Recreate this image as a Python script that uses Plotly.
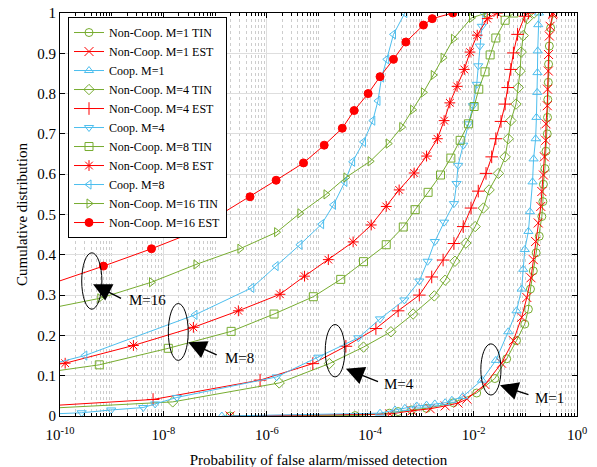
import numpy as np
import plotly.graph_objects as go

# ---- data (x given as log10 of probability, y = cumulative distribution) ----
m1_tin_logx = [-6.71, -4.29, -3.63, -3.46, -3.20, -2.91, -2.39, -1.94, -1.59, -1.36, -1.17, -1.01, -0.94, -0.90,
               -0.845, -0.79, -0.73, -0.68, -0.66, -0.65, -0.62, -0.60, -0.575, -0.57, -0.565, -0.555, -0.55,
               -0.535, -0.51, -0.46]
m1_tin_cdf = [0.0, 0.001, 0.007, 0.011, 0.015, 0.019, 0.033, 0.057, 0.093, 0.142, 0.187, 0.228, 0.265, 0.315,
              0.360, 0.405, 0.446, 0.495, 0.532, 0.575, 0.614, 0.657, 0.700, 0.741, 0.785, 0.828, 0.873,
              0.918, 0.963, 1.0]

m1_est_logx = [-6.71, -3.62, -3.19, -2.84, -2.55, -2.30, -2.13, -1.78, -1.46, -1.23, -1.07, -0.97, -0.89, -0.845,
               -0.80, -0.75, -0.70, -0.68, -0.65, -0.63, -0.605, -0.60, -0.575, -0.57, -0.555, -0.55, -0.535,
               -0.52, -0.47, -0.465]
m1_est_cdf = [0.0, 0.005, 0.013, 0.018, 0.025, 0.032, 0.042, 0.078, 0.131, 0.187, 0.245, 0.294, 0.343, 0.388,
              0.433, 0.479, 0.520, 0.557, 0.598, 0.643, 0.684, 0.725, 0.770, 0.811, 0.856, 0.897, 0.943,
              0.967, 0.996, 1.0]

coop1_logx = [-6.87, -3.81, -3.52, -3.33, -3.10, -2.91, -2.75, -2.55, -2.42, -2.21, -1.84, -1.57, -1.33, -1.17,
              -1.07, -1.04, -1.01, -0.94, -0.91, -0.86, -0.84, -0.80, -0.785, -0.77, -0.765, -0.76, -0.75, -0.735]
coop1_cdf = [0.0, 0.007, 0.015, 0.019, 0.025, 0.027, 0.030, 0.033, 0.039, 0.048, 0.089, 0.138, 0.209, 0.261,
             0.315, 0.364, 0.413, 0.458, 0.507, 0.581, 0.638, 0.688, 0.741, 0.803, 0.852, 0.906, 0.971, 1.0]

m4_tin_logx = [-10.4, -7.82, -5.76, -4.79, -4.13, -3.60, -3.17, -2.76, -2.55, -2.36, -2.15, -1.97, -1.81, -1.70,
               -1.52, -1.39, -1.33, -1.28, -1.18, -1.135, -1.10, -1.08, -1.04, -0.96, -0.83]
m4_tin_cdf = [0.018, 0.035, 0.082, 0.130, 0.171, 0.209, 0.253, 0.298, 0.337, 0.384, 0.429, 0.470, 0.516, 0.561,
              0.602, 0.643, 0.688, 0.733, 0.774, 0.815, 0.856, 0.903, 0.944, 0.986, 1.0]

m4_est_logx = [-10.4, -8.20, -6.13, -5.11, -4.47, -3.89, -3.46, -3.05, -2.81, -2.59, -2.38, -2.20, -2.05, -1.91,
               -1.76, -1.65, -1.57, -1.47, -1.39, -1.34, -1.28, -1.23, -1.15, -1.01, -0.94]
m4_est_cdf = [0.024, 0.041, 0.089, 0.130, 0.173, 0.217, 0.261, 0.300, 0.345, 0.387, 0.428, 0.470, 0.516, 0.558,
              0.602, 0.643, 0.688, 0.731, 0.774, 0.815, 0.860, 0.901, 0.947, 0.992, 1.0]

coop4_logx = [-10.4, -9.58, -9.01, -8.39, -8.16, -7.74, -5.81, -5.00, -4.23, -3.81, -3.34, -3.05, -2.89, -2.75,
              -2.57, -2.38, -2.33, -2.30, -2.20, -2.10, -2.01, -1.94, -1.91, -1.88, -1.84, -1.81]
coop4_cdf = [0.004, 0.008, 0.015, 0.021, 0.030, 0.046, 0.097, 0.146, 0.194, 0.241, 0.288, 0.335, 0.384, 0.433,
             0.481, 0.527, 0.577, 0.622, 0.672, 0.725, 0.770, 0.823, 0.869, 0.918, 0.967, 1.0]

m8_tin_logx = [-10.4, -9.24, -7.905, -6.69, -5.86, -5.10, -4.57, -4.13, -3.69, -3.36, -3.13, -2.88, -2.64, -2.44,
               -2.26, -2.10, -1.99, -1.90, -1.78, -1.68, -1.57, -1.39, -1.22]
m8_tin_cdf = [0.106, 0.127, 0.168, 0.210, 0.253, 0.296, 0.339, 0.383, 0.425, 0.469, 0.512, 0.555, 0.598, 0.640,
              0.684, 0.725, 0.768, 0.811, 0.854, 0.896, 0.938, 0.982, 1.0]

m8_est_logx = [-10.4, -9.90, -8.58, -7.42, -6.55, -5.745, -5.27, -4.81, -4.33, -3.98, -3.69, -3.44, -3.15, -2.91,
               -2.70, -2.57, -2.46, -2.32, -2.18, -2.07, -1.93, -1.735, -1.54]
m8_est_cdf = [0.122, 0.131, 0.175, 0.220, 0.261, 0.302, 0.347, 0.388, 0.432, 0.474, 0.520, 0.561, 0.603, 0.645,
              0.688, 0.733, 0.777, 0.818, 0.860, 0.903, 0.945, 0.986, 1.0]

coop8_logx = [-10.4, -9.52, -7.39, -6.29, -5.82, -5.36, -4.94, -4.71, -4.49, -4.34, -4.13, -3.95, -3.85, -3.78,
              -3.68, -3.55, -3.33]
coop8_cdf = [0.121, 0.150, 0.251, 0.318, 0.372, 0.425, 0.476, 0.524, 0.581, 0.631, 0.680, 0.733, 0.782, 0.840,
             0.885, 0.947, 1.0]

m16_tin_logx = [-10.4, -9.23, -8.23, -7.37, -6.52, -5.81, -5.36, -4.855, -4.47, -4.00, -3.65, -3.39, -3.18, -2.97,
                -2.78, -2.59, -2.39, -2.04, -1.75]
m16_tin_cdf = [0.262, 0.292, 0.332, 0.376, 0.415, 0.456, 0.503, 0.550, 0.592, 0.632, 0.676, 0.717, 0.760, 0.803,
               0.846, 0.889, 0.936, 0.988, 1.0]

m16_est_logx = [-10.4, -9.16, -8.23, -7.40, -6.91, -6.325, -5.82, -5.29, -4.89, -4.54, -4.31, -4.04, -3.81, -3.55,
                -3.31, -2.97, -2.80, -2.40]
m16_est_cdf = [0.318, 0.372, 0.415, 0.457, 0.499, 0.544, 0.585, 0.628, 0.672, 0.714, 0.758, 0.800, 0.842, 0.885,
               0.928, 0.970, 0.986, 1.0]

x_tick_exponents = [-10, -8, -6, -4, -2, 0]
y_tick_values = [0, 0.1, 0.2, 0.3, 0.4, 0.5, 0.6, 0.7, 0.8, 0.9, 1]
y_tick_labels = ["0", "0.1", "0.2", "0.3", "0.4", "0.5", "0.6", "0.7", "0.8", "0.9", "1"]

GREEN = "rgb(119,172,48)"
RED = "rgb(255,0,0)"
BLUE = "rgb(77,190,238)"

series = [
    ("Non-Coop. M=1 TIN", m1_tin_logx, m1_tin_cdf, GREEN, "circle-open"),
    ("Non-Coop. M=1 EST", m1_est_logx, m1_est_cdf, RED, "x-thin-open"),
    ("Coop. M=1", coop1_logx, coop1_cdf, BLUE, "triangle-up-open"),
    ("Non-Coop. M=4 TIN", m4_tin_logx, m4_tin_cdf, GREEN, "diamond-open"),
    ("Non-Coop. M=4 EST", m4_est_logx, m4_est_cdf, RED, "cross-thin-open"),
    ("Coop. M=4", coop4_logx, coop4_cdf, BLUE, "triangle-down-open"),
    ("Non-Coop. M=8 TIN", m8_tin_logx, m8_tin_cdf, GREEN, "square-open"),
    ("Non-Coop. M=8 EST", m8_est_logx, m8_est_cdf, RED, "asterisk-open"),
    ("Coop. M=8", coop8_logx, coop8_cdf, BLUE, "triangle-left-open"),
    ("Non-Coop. M=16 TIN", m16_tin_logx, m16_tin_cdf, GREEN, "triangle-right-open"),
    ("Non-Coop. M=16 EST", m16_est_logx, m16_est_cdf, RED, "circle"),
]

FONT = "Liberation Serif"
fig = go.Figure()
for name, lx, cdf, col, sym in series:
    size = 8
    if sym in ("x-thin-open", "cross-thin-open", "asterisk-open"):
        size = 9
    fig.add_trace(go.Scatter(
        x=10 ** np.array(lx), y=cdf, name=name, mode="lines+markers",
        line=dict(color=col, width=1),
        marker=dict(symbol=sym, size=size, color=col, line=dict(color=col, width=1)),
    ))

minor_vals = []
for k in range(-10, 0):
    for m in range(1, 10):
        if m == 1 and k % 2 == 0:
            continue
        minor_vals.append(m * 10.0 ** k)

fig.update_xaxes(
    type="log", range=[-10, 0], automargin=False,
    tickmode="array", tickvals=[10.0 ** e for e in x_tick_exponents],
    ticktext=["10<sup>%d</sup>" % e for e in x_tick_exponents],
    ticks="inside", ticklen=5, tickcolor="black", ticklabelstandoff=5,
    showline=True, linecolor="black", linewidth=1, mirror="ticks",
    showgrid=True, gridcolor="rgb(222,222,222)", gridwidth=1,
    minor=dict(tickmode="array", tickvals=minor_vals, ticks="inside", ticklen=3, tickcolor="black",
               showgrid=True, gridcolor="rgb(205,205,205)", griddash="dot", gridwidth=1),
    title=dict(text="Probability of false alarm/missed detection", font=dict(family=FONT, size=15, color="black"),
               standoff=12),
    tickfont=dict(family=FONT, size=15, color="black"),
    zeroline=False,
)
fig.update_yaxes(
    range=[0, 1], automargin=False, tickmode="array", tickvals=y_tick_values,
    ticktext=y_tick_labels, ticklabeloverflow="allow",
    ticks="inside", ticklen=5, tickcolor="black",
    showline=True, linecolor="black", linewidth=1, mirror="ticks",
    showgrid=True, gridcolor="rgb(222,222,222)", gridwidth=1,
    title=dict(text="Cumulative distribution", font=dict(family=FONT, size=15, color="black"), standoff=6),
    tickfont=dict(family=FONT, size=15, color="black"),
    zeroline=False,
)

# ellipses (paper x = (log10 x + 10)/10, paper y = cdf)
ellipses = [(-9.58, -9.19, 0.265, 0.405), (-7.905, -7.52, 0.138, 0.279),
            (-4.87, -4.49, 0.097, 0.227), (-1.86, -1.47, 0.052, 0.179)]
for x0, x1, y0, y1 in ellipses:
    fig.add_shape(type="circle", xref="paper", yref="paper",
                  x0=(x0 + 10) / 10, x1=(x1 + 10) / 10, y0=y0, y1=y1,
                  line=dict(color="black", width=1), layer="above")

# arrows: (head_x, head_y, tail_x, tail_y, label, label_x, label_y)
arrows = [(-9.36, 0.327, -8.79, 0.290, "M=16", -8.70, 0.287),
          (-7.52, 0.183, -6.94, 0.150, "M=8", -6.85, 0.143),
          (-4.47, 0.117, -3.82, 0.084, "M=4", -3.77, 0.080),
          (-1.49, 0.076, -0.91, 0.052, "M=1", -0.86, 0.044)]
for hx, hy, tx, ty, lab, lx_, ly_ in arrows:
    fig.add_annotation(x=hx, y=hy, ax=tx, ay=ty, xref="x", yref="y", axref="x", ayref="y",
                       text="", showarrow=True, arrowhead=2, arrowsize=2.6, arrowwidth=1.4,
                       arrowcolor="black", standoff=0)
    fig.add_annotation(x=lx_, y=ly_, xref="x", yref="y", text=lab, showarrow=False,
                       xanchor="left", yanchor="middle", font=dict(family=FONT, size=15, color="black"))

# page body has an 8px margin: offset the plot area so it lands near x 60..577, y 12..416
fig.update_layout(
    width=597, height=467,
    margin=dict(l=52, r=28, t=5, b=59),
    paper_bgcolor="white", plot_bgcolor="white",
    font=dict(family=FONT, color="black"),
    legend=dict(x=0.0155, y=0.99, xanchor="left", yanchor="top",
                bgcolor="white", bordercolor="black", borderwidth=1,
                font=dict(family=FONT, size=12, color="black"),
                tracegroupgap=0, itemwidth=30),
)

fig.write_html("out.html")
